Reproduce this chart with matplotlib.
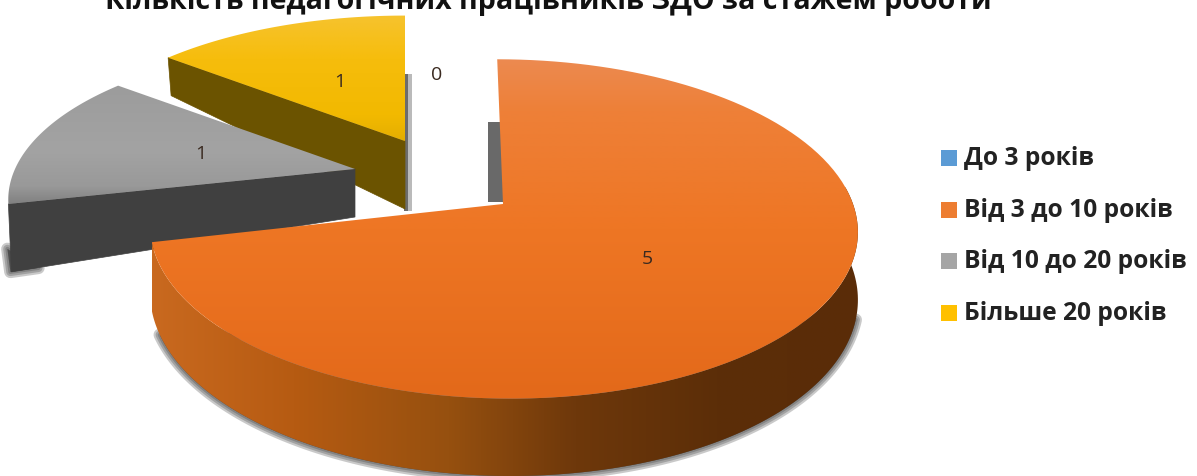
import numpy as np
import matplotlib
matplotlib.use("Agg")
import matplotlib.pyplot as plt
from matplotlib.colors import LinearSegmentedColormap
from matplotlib.patches import Polygon, Rectangle

# Data
categories = ["До 3 років", "Від 3 до 10 років", "Від 10 до 20 років", "Більше 20 років"]
values = [0, 5, 1, 1]
title = "Кількість педагогічних працівників ЗДО за стажем роботи"
legend_colors = ["#5B9BD5", "#ED7D31", "#A5A5A5", "#FFC000"]

# Per slice layout: apex x, apex y, rx, a, k, depth at apex, depth at rim, shear
layout = [
    (437, 143, 340, 150, 0.196, 0, 0, 0),
    (503, 205, 350, 166, 0.147, 66, 66, 0.04),
    (355, 170, 340, 150, 0.196, 48, 68, 0),
    (405, 142, 340, 150, 0.196, 68, 38, 0),
]
label_radius = [0.5, 0.495, 0.475, 0.48]

W, H = 1197, 477
fig = plt.figure(figsize=(W / 100, H / 100), dpi=100)
ax = fig.add_axes([0, 0, 1, 1])


def project(t, r, lay):
    cx, cy, rx, a, k = lay[:5]
    X = r * np.sin(t)
    Y = r * np.cos(t)
    d = 1 + k * Y
    return cx + rx * X / d - lay[7] * a * Y / d, cy - a * Y / d


def gradient_fill(pts, stops, vertical=True):
    pts = np.asarray(pts)
    x0, y0 = pts.min(axis=0)
    x1, y1 = pts.max(axis=0)
    cmap = LinearSegmentedColormap.from_list("g", stops)
    g = np.linspace(0, 1, 256)
    g = g[:, None] if vertical else g[None, :]
    patch = Polygon(pts, closed=True, transform=ax.transData, fc="none", ec="none")
    ax.add_patch(patch)
    im = ax.imshow(g, extent=(x0, x1, y1, y0), aspect="auto", cmap=cmap, vmin=0, vmax=1,
                   interpolation="bilinear", zorder=patch.get_zorder())
    im.set_clip_path(patch)


def soft_shadow(pts, color="#2b2b2b"):
    for lw in (9, 6, 3):
        ax.add_patch(Polygon(pts, closed=True, fc=color, ec=color, lw=lw, alpha=0.25,
                             joinstyle="round"))


# slice angles from the values, clockwise from the top
edges = 2 * np.pi * np.cumsum([0] + values) / sum(values)
wedges = {}
for i, lay in enumerate(layout):
    ts = np.linspace(edges[i], edges[i + 1], 120)
    rim = np.column_stack(project(ts, 1, lay))
    wedges[i] = (ts, rim, np.vstack([[lay[0], lay[1]], rim]))

# yellow slice
lay = layout[3]
ts, rim, top = wedges[3]
ax.add_patch(Rectangle((lay[0] - 1, lay[1] - 67), 8, 137, fc="#8c8c8c", ec="none", alpha=0.6))
ax.add_patch(Rectangle((lay[0] - 1, lay[1] - 67), 4, 137, fc="#595959", ec="none", alpha=0.8))
p = project(ts[0], 1, lay)
face = [(lay[0], lay[1]), p, (p[0] + 3, p[1] + lay[6]), (lay[0], lay[1] + lay[5])]
ax.add_patch(Polygon(face, closed=True, fc="#6B5300", ec="#6B5300", lw=0.5))
gradient_fill(top, [(0, "#F6C32E"), (0.35, "#F6BD0C"), (0.8, "#F2B900"), (1, "#E4AE00")])

# grey slice
lay = layout[2]
ts, rim, top = wedges[2]
p = project(ts[0], 1, lay)
face = [(lay[0], lay[1]), p, (p[0] + 3, p[1] + lay[6]), (lay[0], lay[1] + lay[5])]
soft_shadow([(p[0] - 1, p[1] + 45), (p[0] + 2, p[1] + lay[6]), (p[0] + 30, p[1] + lay[6] - 4)])
ax.add_patch(Polygon(face, closed=True, fc="#404040", ec="#404040", lw=0.5))
gradient_fill(top, [(0, "#9C9C9C"), (0.55, "#A3A3A3"), (0.85, "#999999"), (1, "#808080")])

# orange slice
lay = layout[1]
ts, rim, top = wedges[1]
ax.add_patch(Rectangle((lay[0] - 15, lay[1] - 82), 15, 80, fc="#595959", ec="none", alpha=0.9))
tv = np.linspace(np.radians(84), edges[2], 160)
upper = np.column_stack(project(tv, 1, lay))
lower = upper + np.column_stack([np.zeros_like(tv), lay[6] / (1 + lay[4] * np.cos(tv))])
side = np.vstack([upper, lower[::-1]])
soft_shadow(lower[(tv > np.radians(105)) & (tv < np.radians(250))])
gradient_fill(side, [(0, "#C9691F"), (0.2, "#B65B12"), (0.42, "#96500F"), (0.6, "#6E380B"),
                     (0.8, "#5C2E08"), (1, "#5A2C08")], vertical=False)
gradient_fill(top, [(0, "#EC8A50"), (0.15, "#EE8038"), (0.5, "#EE7624"), (1, "#E3691A")])

# data labels at the middle of each slice
for i, lay in enumerate(layout):
    mid = (edges[i] + edges[i + 1]) / 2
    lx, ly = project(mid, label_radius[i], lay)
    ax.text(lx, ly, str(values[i]), ha="center", va="center", fontsize=14,
            family="Open Sans", color="#3a2a20", zorder=5)

# legend
for name, col, y in zip(categories, legend_colors, [159, 211, 262, 314]):
    ax.add_patch(Rectangle((941, y - 8), 16, 16, fc=col, ec="none", zorder=5))
    ax.text(964, y, name, ha="left", va="center", fontsize=17.7, fontweight="bold",
            family="Open Sans", color="#222222", zorder=5)

# the title runs off the top edge in the reference too
ax.text(548, 9, title, ha="center", va="baseline", fontsize=20.6, fontweight="bold",
        family="Open Sans", color="#111111", zorder=5)

ax.set_xlim(0, W)
ax.set_ylim(H, 0)
ax.axis("off")
fig.savefig("out.png", dpi=100)
